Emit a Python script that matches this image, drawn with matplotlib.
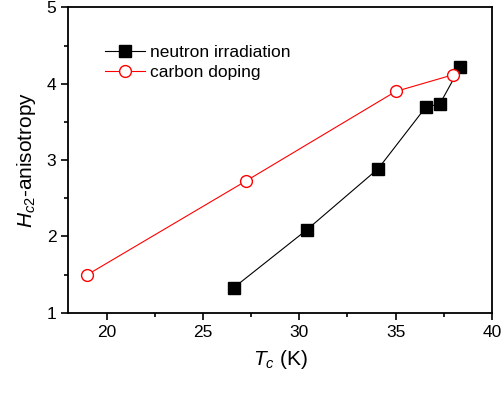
import matplotlib
matplotlib.use("Agg")
import matplotlib.pyplot as plt
from matplotlib.ticker import MultipleLocator

plt.rcParams['font.family'] = ['Liberation Sans', 'DejaVu Sans']
plt.rcParams['mathtext.fontset'] = 'custom'
plt.rcParams['mathtext.it'] = 'Liberation Sans:italic'
plt.rcParams['mathtext.rm'] = 'Liberation Sans'

# data
tc_neutron = [26.6, 30.4, 34.1, 36.55, 37.3, 38.35]
aniso_neutron = [1.33, 2.09, 2.89, 3.69, 3.74, 4.22]
tc_carbon = [19.0, 27.25, 35.0, 38.0]
aniso_carbon = [1.50, 2.73, 3.90, 4.12]

fig = plt.figure(figsize=(5.01, 3.94), dpi=100)
ax = fig.add_axes([0.136, 0.206, 0.846, 0.775])

ax.plot(tc_neutron, aniso_neutron, '-s', color='black', lw=0.8, ms=8.5,
        mfc='black', mec='black', label='neutron irradiation')
ax.plot(tc_carbon, aniso_carbon, '-o', color='red', lw=0.8, ms=8.5,
        mfc='white', mec='red', mew=1.0, label='carbon doping')

ax.set_xlim(18, 40)
ax.set_ylim(1, 5)
ax.xaxis.set_major_locator(MultipleLocator(5))
ax.xaxis.set_minor_locator(MultipleLocator(2.5))
ax.yaxis.set_major_locator(MultipleLocator(1))
ax.yaxis.set_minor_locator(MultipleLocator(0.5))
ax.tick_params(which='both', direction='out', top=False, right=False, width=1.2)
ax.tick_params(which='major', length=5, labelsize=12.5)
ax.tick_params(which='minor', length=3)
for s in ax.spines.values():
    s.set_linewidth(1.3)

ax.set_xlabel('$T_c$ (K)', fontsize=15, labelpad=6)
ax.set_ylabel('$H_{c2}$-anisotropy', fontsize=15, labelpad=6)

ax.legend(loc='upper left', bbox_to_anchor=(0.05, 0.93), frameon=False,
          fontsize=12.5, handlelength=2.3, handletextpad=0.3, labelspacing=0.3)

fig.savefig('out.png', dpi=100)
